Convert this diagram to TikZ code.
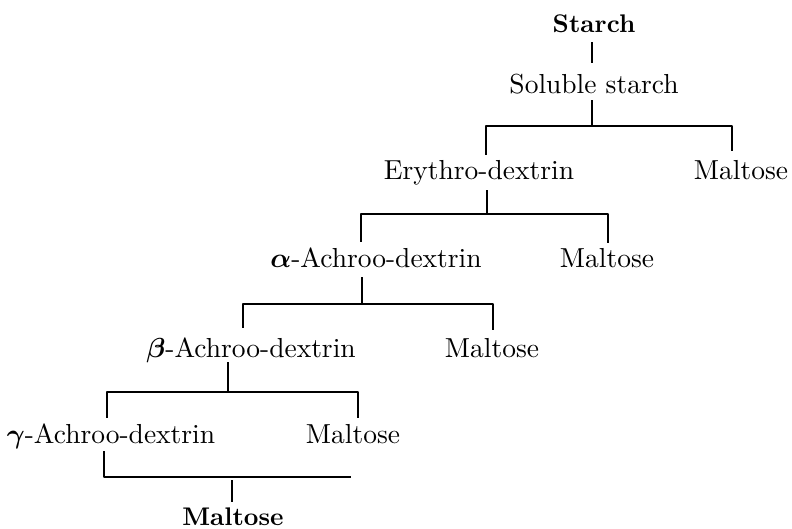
\RequirePackage{fix-cm}
\documentclass[tikz,border=0pt]{standalone}
\usepackage{fontspec}
\usepackage{graphicx}
\usepackage{bm}
\newcommand{\tx}[1]{\scalebox{2.75}{\fontsize{10}{12}\selectfont #1}}
\newcommand{\bx}[1]{\scalebox{2.55}{\fontsize{10}{12}\selectfont\bfseries #1}}
\begin{document}
\begin{tikzpicture}[x=1pt,y=-1pt,
  lbl/.style={inner sep=0pt,anchor=base,text height=19pt,text depth=0pt},
  conn/.style={line width=2.6pt,line join=round,line cap=butt}]
\useasboundingbox (0,0) rectangle (792,529);
% nodes
\node[lbl] (starch) at (594,33) {\bx{Starch}};
\node[lbl] (sol) at (594,93.5) {\tx{Soluble starch}};
\node[lbl] (ery) at (479,180) {\tx{Erythro-dextrin}};
\node[lbl] (mal1) at (741,180) {\tx{Maltose}};
\node[lbl] (alpha) at (376,268) {\tx{$\bm{\alpha}$-Achroo-dextrin}};
\node[lbl] (mal2) at (607,268) {\tx{Maltose}};
\node[lbl] (beta) at (251,357) {\tx{$\bm{\beta}$-Achroo-dextrin}};
\node[lbl] (mal3) at (492,357) {\tx{Maltose}};
\node[lbl] (gamma) at (111,443.5) {\tx{$\bm{\gamma}$-Achroo-dextrin}};
\node[lbl] (mal4) at (353,443.5) {\tx{Maltose}};
\node[lbl] (mal5) at (233,525) {\bx{Maltose}};
% junctions and bracket corners
\coordinate (j1) at (592,126);
\coordinate (b1l) at (486,126);
\coordinate (b1r) at (732,126);
\coordinate (j2) at (487,214);
\coordinate (b2l) at (361,214);
\coordinate (b2r) at (608,214);
\coordinate (j3) at (362,304);
\coordinate (b3l) at (243,304);
\coordinate (b3r) at (493,304);
\coordinate (j4) at (228,392);
\coordinate (b4l) at (107,392);
\coordinate (b4r) at (358,392);
\coordinate (b5l) at (104,477);
\coordinate (b5r) at (351,477);
\coordinate (j5) at (232,477);
% connectors
\draw[conn,shorten <=9pt,shorten >=11.5pt] (j1 |- starch.south) -- (j1 |- sol.north);
\draw[conn,shorten <=6.5pt] (j1 |- sol.south) -- (j1);
\draw[conn,shorten <=6pt,shorten >=10pt] (b1l |- ery.north) -- (b1l) -- (b1r) -- (b1r |- mal1.north);
\draw[conn,shorten <=10pt] (j2 |- ery.south) -- (j2);
\draw[conn,shorten <=7pt,shorten >=6pt] (b2l |- alpha.north) -- (b2l) -- (b2r) -- (b2r |- mal2.north);
\draw[conn,shorten <=9pt] (j3 |- alpha.south) -- (j3);
\draw[conn,shorten <=10pt,shorten >=8pt] (b3l |- beta.north) -- (b3l) -- (b3r) -- (b3r |- mal3.north);
\draw[conn,shorten <=5pt] (j4 |- beta.south) -- (j4);
\draw[conn,shorten <=6.5pt,shorten >=6.5pt] (b4l |- gamma.north) -- (b4l) -- (b4r) -- (b4r |- mal4.north);
\draw[conn,shorten <=7.5pt] (b5l |- gamma.south) -- (b5l) -- (b5r);
\draw[conn,shorten <=3pt,shorten >=4pt] (j5) -- (j5 |- mal5.north);
\end{tikzpicture}
\end{document}
